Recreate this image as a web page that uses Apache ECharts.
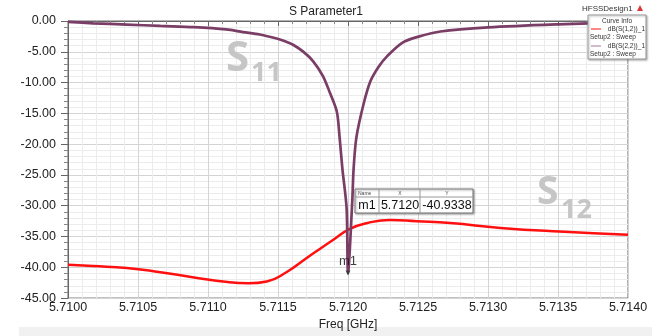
<!DOCTYPE html>
<html><head><meta charset="utf-8">
<script src="https://cdn.jsdelivr.net/npm/echarts@6/dist/echarts.min.js"></script>
<style>html,body{margin:0;padding:0;background:#fff}#c{width:652px;height:336px}</style>
</head><body><div id="c"></div>
<script>
// S11 (dB)
const freqS11 = [5.71000,5.71018,5.71042,5.71066,5.71090,5.71113,5.71125,5.71137,5.71149,5.71155,5.71161,5.71168,5.71175,5.71182,5.71187,5.71192,5.71194,5.71196,5.71199,5.71200,5.71203,5.71204,5.71206,5.71211,5.71216,5.71222,5.71228,5.71239,5.71251,5.71266,5.71300,5.71350,5.71400];
const s11 =     [-0.15,  -0.37,  -0.58,  -0.80,  -1.00,  -1.37,  -1.80,  -2.20,  -2.85,  -3.30,  -3.90,  -4.97,  -6.50,  -8.90,  -11.6,  -14.7,  -18.9,  -24.0,  -30.4,  -40.9338,-29.5, -24.0,  -18.9,  -13.6,  -9.8,   -7.4,   -5.7,   -3.5,   -2.5,   -1.7,   -1.05,  -0.55,  -0.2];
// S12 (dB)
const freqS12 = [5.71000,5.71018,5.71042,5.71066,5.71089,5.71114,5.71129,5.71142,5.71156,5.71171,5.71178,5.71189,5.71201,5.71214,5.71230,5.71249,5.71273,5.71309,5.71351,5.71400];
const s12 =     [-39.6,  -39.8,  -40.1,  -40.8,  -41.6,  -42.4,  -42.6,  -42.3,  -40.8,  -38.4,  -37.3,  -35.6,  -33.8,  -32.8,  -32.3,  -32.5,  -32.8,  -33.6,  -34.2,  -34.7];
// marker
const markerName = 'm1';
const markerX = 5.7120;
const markerY = -40.9338;
// axes
const xMin = 5.7100, xMax = 5.7140, xStep = 0.0005;
const yMin = -45, yMax = 0, yStep = 5;

const chart = echarts.init(document.getElementById('c'));
const F = 'Liberation Sans, Arial, sans-serif';
chart.setOption({
  animation: false,
  backgroundColor: '#fff',
  title: {text: 'S Parameter1', left: 'center', top: 1, textStyle: {fontFamily: F, fontSize: 12, fontWeight: 'normal', color: '#222'}},
  grid: {left: 68, right: 24, top: 21, bottom: 31, show: true, borderColor: '#666', borderWidth: 1, backgroundColor: '#fff'},
  xAxis: {
    type: 'value', min: xMin, max: xMax, interval: xStep,
    name: 'Freq [GHz]', nameLocation: 'middle', nameGap: 18,
    nameTextStyle: {fontFamily: F, fontSize: 12, color: '#222'},
    axisLine: {lineStyle: {color: '#666'}},
    axisTick: {show: true, length: 5, lineStyle: {color: '#666'}},
    minorTick: {show: true, splitNumber: 5, length: 3, lineStyle: {color: '#888'}},
    axisLabel: {fontFamily: F, fontSize: 12.5, color: '#222', margin: 3, formatter: v => v.toFixed(4)},
    splitLine: {show: true, lineStyle: {color: '#d4d4d4'}},
    minorSplitLine: {show: true, lineStyle: {color: '#ececec'}}
  },
  yAxis: {
    type: 'value', min: yMin, max: yMax, interval: yStep,
    axisLine: {show: true, lineStyle: {color: '#666'}},
    axisTick: {show: true, length: 7, lineStyle: {color: '#666'}},
    minorTick: {show: true, splitNumber: 5, length: 4, lineStyle: {color: '#888'}},
    axisLabel: {fontFamily: F, fontSize: 12.5, color: '#222', margin: 12, formatter: v => v.toFixed(2)},
    splitLine: {show: true, lineStyle: {color: '#d4d4d4'}},
    minorSplitLine: {show: true, lineStyle: {color: '#ececec'}}
  },
  series: [
    {type: 'line', name: 'dB(S(1,2))_1', data: freqS12.map((f, i) => [f, s12[i]]), showSymbol: false, smooth: 0.5, lineStyle: {color: '#ff1010', width: 2.5}, z: 3},
    {type: 'line', name: 'dB(S(2,2))_1', data: freqS11.map((f, i) => [f, s11[i]]), showSymbol: false, smooth: 0.3, lineStyle: {color: '#7a3d66', width: 2.7}, z: 4},
    {type: 'scatter', data: [[markerX, markerY]], symbol: 'triangle', symbolRotate: 180, symbolSize: 5, itemStyle: {color: '#333'}, z: 6,
     label: {show: true, position: 'top', distance: 3, formatter: markerName, fontFamily: F, fontSize: 13, color: '#111'}}
  ],
  graphic: [
    {type: 'rect', left: 19, top: 327, shape: {width: 633, height: 9}, style: {fill: '#f1f1f1'}, z: -10},
    {type: 'text', left: 582, top: 5, style: {text: 'HFSSDesign1', fontFamily: F, fontSize: 8, fill: '#333'}},
    {type: 'polygon', shape: {points: [[637, 11], [643, 11], [640, 5]]}, style: {fill: '#d9363e'}},
    // curve info legend
    {type: 'rect', shape: {x: 588, y: 15, width: 58, height: 44}, style: {fill: '#fff', stroke: '#999', lineWidth: 1, shadowBlur: 2, shadowOffsetX: 1, shadowOffsetY: 1, shadowColor: 'rgba(0,0,0,0.3)'}, z: 20},
    {type: 'text', x: 617, y: 18, style: {text: 'Curve Info', fontFamily: F, fontSize: 6.5, fill: '#333', align: 'center'}, z: 21},
    {type: 'line', shape: {x1: 591, y1: 29, x2: 601, y2: 29}, style: {stroke: '#ff1010', lineWidth: 1}, z: 21},
    {type: 'text', x: 645, y: 26, style: {text: 'dB(S(1,2))_1', fontFamily: F, fontSize: 6.5, fill: '#333', align: 'right'}, z: 21},
    {type: 'text', x: 590, y: 34, style: {text: 'Setup2 : Sweep', fontFamily: F, fontSize: 6.5, fill: '#333'}, z: 21},
    {type: 'line', shape: {x1: 591, y1: 46, x2: 601, y2: 46}, style: {stroke: '#a9789a', lineWidth: 1}, z: 21},
    {type: 'text', x: 645, y: 43, style: {text: 'dB(S(2,2))_1', fontFamily: F, fontSize: 6.5, fill: '#333', align: 'right'}, z: 21},
    {type: 'text', x: 590, y: 51, style: {text: 'Setup2 : Sweep', fontFamily: F, fontSize: 6.5, fill: '#333'}, z: 21},
    // marker table
    {type: 'rect', shape: {x: 355, y: 189, width: 118, height: 24}, style: {fill: '#fff', stroke: '#777', lineWidth: 1, shadowBlur: 2, shadowOffsetX: 1, shadowOffsetY: 1, shadowColor: 'rgba(0,0,0,0.35)'}, z: 20},
    {type: 'line', shape: {x1: 355, y1: 197, x2: 473, y2: 197}, style: {stroke: '#999', lineWidth: 1}, z: 21},
    {type: 'line', shape: {x1: 379, y1: 189, x2: 379, y2: 213}, style: {stroke: '#999', lineWidth: 1}, z: 21},
    {type: 'line', shape: {x1: 420, y1: 189, x2: 420, y2: 213}, style: {stroke: '#999', lineWidth: 1}, z: 21},
    {type: 'text', x: 358, y: 191, style: {text: 'Name', fontFamily: F, fontSize: 5, fill: '#444'}, z: 21},
    {type: 'text', x: 400, y: 191, style: {text: 'X', fontFamily: F, fontSize: 5, fill: '#444', align: 'center'}, z: 21},
    {type: 'text', x: 447, y: 191, style: {text: 'Y', fontFamily: F, fontSize: 5, fill: '#444', align: 'center'}, z: 21},
    {type: 'text', x: 367, y: 199, style: {text: markerName, fontFamily: F, fontSize: 12.5, fill: '#111', align: 'center'}, z: 21},
    {type: 'text', x: 400, y: 199, style: {text: markerX.toFixed(4), fontFamily: F, fontSize: 12.5, fill: '#111', align: 'center'}, z: 21},
    {type: 'text', x: 447, y: 199, style: {text: markerY.toFixed(4), fontFamily: F, fontSize: 12.5, fill: '#111', align: 'center'}, z: 21},
    // S11 / S12 labels
    {type: 'text', x: 226, y: 38, style: {text: 'S', fontFamily: 'Open Sans', fontWeight: 'bold', fontSize: 42, fill: '#c6c6c6'}, z: 2},
    {type: 'text', x: 251, y: 60, style: {text: '11', fontFamily: 'Open Sans', fontWeight: 'bold', fontSize: 27, fill: '#c6c6c6'}, z: 2},
    {type: 'text', x: 537, y: 173, style: {text: 'S', fontFamily: 'Open Sans', fontWeight: 'bold', fontSize: 39, fill: '#c6c6c6'}, z: 2},
    {type: 'text', x: 561, y: 197, style: {text: '12', fontFamily: 'Open Sans', fontWeight: 'bold', fontSize: 27, fill: '#c6c6c6'}, z: 2}
  ]
});
</script></body></html>
